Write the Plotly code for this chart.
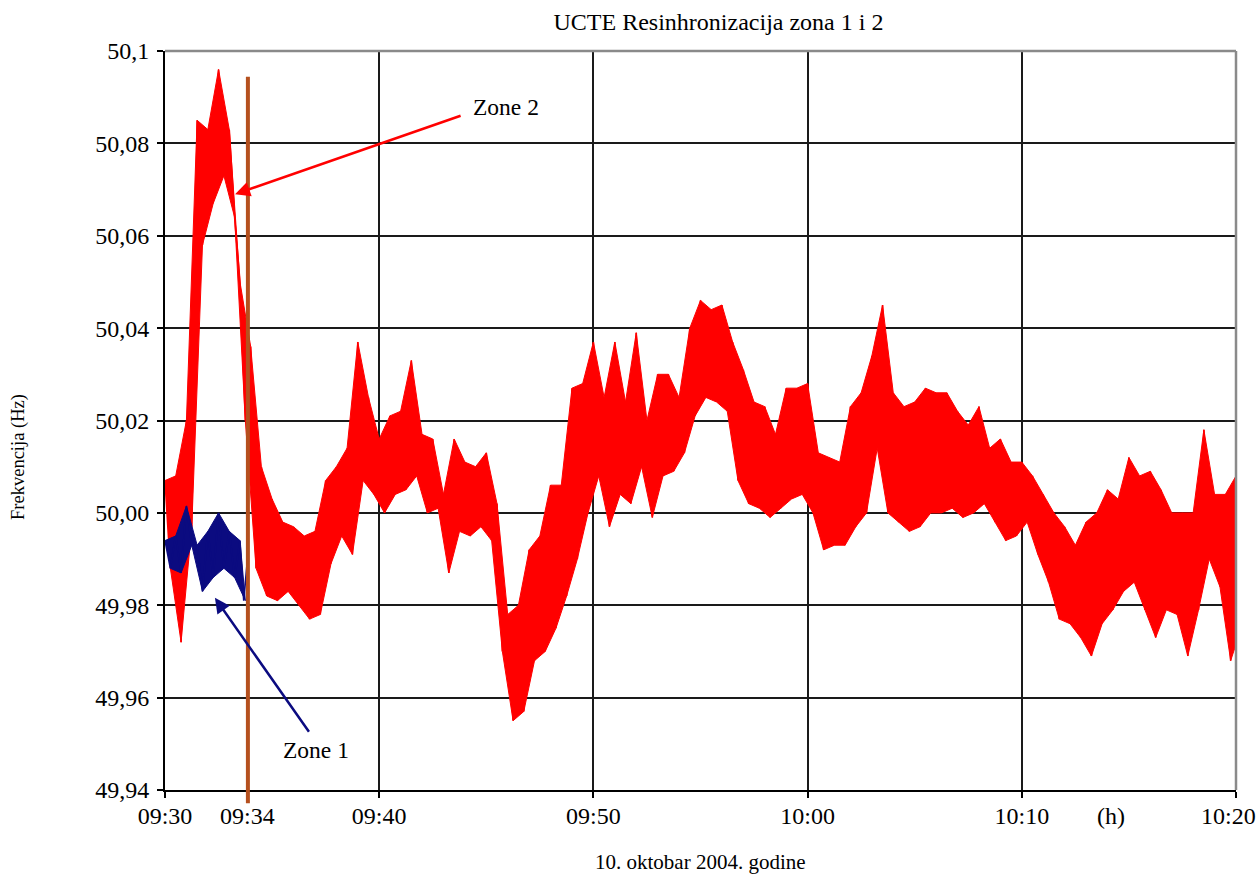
import plotly.graph_objects as go

# ---------------- data (minutes after 09:30, frequency in Hz) ----------------
zone2_time = [0.0, 0.5, 1.0, 1.5, 2.0, 2.5, 3.0, 3.5, 4.0, 4.5, 5.0, 5.5, 6.0, 6.5, 7.0, 7.5,
              8.0, 8.5, 9.0, 9.5, 10.0, 10.5, 11.0, 11.5, 12.0, 12.5, 13.0, 13.5, 14.0, 14.5,
              15.0, 15.5, 16.0, 16.5, 17.0, 17.5, 18.0, 18.5, 19.0, 19.5, 20.0, 20.5, 21.0,
              21.5, 22.0, 22.5, 23.0, 23.5, 24.0, 24.5, 25.0, 25.5, 26.0, 26.5, 27.0, 27.5,
              28.0, 28.5, 29.0, 29.5, 30.0, 30.5, 31.0, 31.5, 32.0, 32.5, 33.0, 33.5, 34.0,
              34.5, 35.0, 35.5, 36.0, 36.5, 37.0, 37.5, 38.0, 38.5, 39.0, 39.5, 40.0, 40.5,
              41.0, 41.5, 42.0, 42.5, 43.0, 43.5, 44.0, 44.5, 45.0, 45.5, 46.0, 46.5, 47.0,
              47.5, 48.0, 48.5, 49.0, 49.5, 50.0]
zone2_high = [50.007, 50.008, 50.020, 50.085, 50.083, 50.096, 50.083, 50.050, 50.036, 50.010,
              50.003, 49.998, 49.997, 49.995, 49.996, 50.007, 50.010, 50.014, 50.037, 50.025,
              50.016, 50.021, 50.022, 50.033, 50.017, 50.016, 50.004, 50.016, 50.011, 50.010,
              50.013, 50.002, 49.978, 49.980, 49.992, 49.995, 50.006, 50.006, 50.027, 50.028,
              50.037, 50.025, 50.037, 50.024, 50.039, 50.020, 50.030, 50.030, 50.025, 50.040,
              50.046, 50.044, 50.045, 50.037, 50.031, 50.024, 50.023, 50.017, 50.027, 50.027,
              50.028, 50.013, 50.012, 50.011, 50.023, 50.026, 50.034, 50.045, 50.026, 50.023,
              50.024, 50.027, 50.026, 50.026, 50.022, 50.019, 50.023, 50.014, 50.016, 50.011,
              50.011, 50.008, 50.004, 50.000, 49.997, 49.993, 49.998, 50.000, 50.005, 50.003,
              50.012, 50.008, 50.009, 50.005, 50.000, 50.000, 50.000, 50.018, 50.004, 50.004,
              50.008]
zone2_low = [49.988, 49.972, 49.997, 50.058, 50.067, 50.073, 50.064, 50.020, 49.988, 49.982,
             49.981, 49.983, 49.980, 49.977, 49.978, 49.989, 49.995, 49.991, 50.007, 50.004,
             50.000, 50.004, 50.005, 50.008, 50.000, 50.001, 49.987, 49.996, 49.995, 49.997,
             49.994, 49.970, 49.955, 49.957, 49.968, 49.970, 49.975, 49.982, 49.990, 50.000,
             50.008, 49.997, 50.004, 50.002, 50.010, 49.999, 50.008, 50.009, 50.013, 50.021,
             50.025, 50.024, 50.022, 50.007, 50.002, 50.001, 49.999, 50.001, 50.003, 50.004,
             50.000, 49.992, 49.993, 49.993, 49.997, 50.000, 50.014, 50.000, 49.998, 49.996,
             49.997, 50.000, 50.000, 50.001, 49.999, 50.000, 50.002, 49.998, 49.994, 49.995,
             49.998, 49.991, 49.985, 49.977, 49.976, 49.973, 49.969, 49.976, 49.979, 49.983,
             49.985, 49.979, 49.973, 49.979, 49.978, 49.969, 49.979, 49.990, 49.984, 49.968,
             49.975]

zone1_time = [0.0, 0.5, 1.0, 1.5, 2.0, 2.5, 3.0, 3.5, 3.85]
zone1_high = [49.994, 49.995, 50.0015, 49.993, 49.996, 50.000, 49.996, 49.994, 49.990]
zone1_low = [49.988, 49.987, 49.993, 49.983, 49.986, 49.988, 49.986, 49.981, 49.981]

resync_time = 3.87          # 09:34 marker (brown line)
resync_label = "09:34"

x_tick_vals = [0, 10, 20, 30, 40, 50]
x_tick_text = ["09:30", "09:40", "09:50", "10:00", "10:10", ""]
x_last_label = "10:20"      # drawn right-aligned at the axis end
y_tick_vals = [49.94, 49.96, 49.98, 50.00, 50.02, 50.04, 50.06, 50.08, 50.10]
y_tick_text = ["49,94", "49,96", "49,98", "50,00", "50,02", "50,04", "50,06", "50,08", "50,1"]

# arrow pointers: (label position), (arrow tail), (arrow head)
zone2_label = (15.9, 50.0879)
zone2_tail = (13.87, 50.0861)
zone2_head = (3.27, 50.069)
zone1_label = (7.05, 49.9487)
zone1_tail = (6.77, 49.9523)
zone1_head = (2.33, 49.9816)


def zigzag(times, highs, lows):
    xs, ys = [], []
    for i, t in enumerate(times):
        step = (times[i + 1] - t) if i + 1 < len(times) else (t - times[i - 1])
        xs += [t, t + step / 2]
        ys += [highs[i], lows[i]]
    return xs, ys


def band(times, highs, lows):
    xs, ys = zigzag(times, highs, lows)
    up_x, up_y = xs[0::2], ys[0::2]
    lo_x, lo_y = xs[1::2], ys[1::2]
    return up_x + lo_x[::-1], up_y + lo_y[::-1]


RED = "#FF0000"
NAVY = "#0B0B80"
BROWN = "#B5501E"
SERIF = "Liberation Serif, Times New Roman, serif"
TICK_FONT = dict(family=SERIF, size=24, color="black")

fig = go.Figure()
px_, py_ = band(zone2_time, zone2_high, zone2_low)
fig.add_trace(go.Scatter(x=px_, y=py_, mode="lines", fill="toself", fillcolor=RED,
                         line=dict(color=RED, width=1), hoverinfo="skip", name="Zone 2 band"))
zx, zy = zigzag(zone2_time, zone2_high, zone2_low)
fig.add_trace(go.Scatter(x=zx, y=zy, mode="lines", line=dict(color=RED, width=1.6), name="Zone 2"))

qx, qy = band(zone1_time[:-1], zone1_high[:-1], zone1_low[:-1])
fig.add_trace(go.Scatter(x=qx, y=qy, mode="lines", fill="toself", fillcolor=NAVY,
                         line=dict(color=NAVY, width=1), hoverinfo="skip", name="Zone 1 band"))
bx, by = zigzag(zone1_time, zone1_high, zone1_low)
fig.add_trace(go.Scatter(x=bx[:-1], y=by[:-1], mode="lines", line=dict(color=NAVY, width=1.6), name="Zone 1"))

fig.update_layout(
    template="none",
    width=1260, height=879,
    margin=dict(l=165, r=24, t=51, b=89, pad=0),
    paper_bgcolor="white", plot_bgcolor="white",
    showlegend=False,
    font=dict(family=SERIF, size=22, color="black"),
)

fig.update_layout(
    xaxis=dict(range=[0, 50], tickmode="array", tickvals=x_tick_vals, ticktext=x_tick_text,
               showgrid=True, gridcolor="#1a1a1a", gridwidth=2, showline=True, linecolor="black",
               linewidth=2, ticks="outside", ticklen=6, tickwidth=2, tickcolor="black",
               zeroline=False, automargin=False, ticklabelstandoff=-3, tickfont=TICK_FONT),
    yaxis=dict(range=[49.94, 50.1], tickmode="array", tickvals=y_tick_vals, ticktext=y_tick_text,
               showgrid=True, gridcolor="#1a1a1a", gridwidth=2, showline=True, linecolor="black",
               linewidth=2, ticks="outside", ticklen=6, tickwidth=2, tickcolor="black",
               zeroline=False, automargin=False, ticklabelstandoff=3, tickfont=TICK_FONT),
)

shapes = [
    dict(type="line", xref="x", yref="paper", x0=resync_time, x1=resync_time, y0=-0.018, y1=0.965,
         line=dict(color=BROWN, width=4), layer="above"),
    dict(type="line", xref="paper", yref="paper", x0=0, x1=1, y0=1, y1=1,
         line=dict(color="#8a8a8a", width=2.5), layer="above"),
    dict(type="line", xref="paper", yref="paper", x0=1, x1=1, y0=0, y1=1,
         line=dict(color="#8a8a8a", width=2.5), layer="above"),
]

label_y = -0.0352
annotations = [
    dict(x=zone2_head[0], y=zone2_head[1], ax=zone2_tail[0], ay=zone2_tail[1], xref="x", yref="y",
         axref="x", ayref="y", text="", showarrow=True, arrowhead=2, arrowsize=1.2, arrowwidth=2.5,
         arrowcolor=RED),
    dict(x=zone1_head[0], y=zone1_head[1], ax=zone1_tail[0], ay=zone1_tail[1], xref="x", yref="y",
         axref="x", ayref="y", text="", showarrow=True, arrowhead=2, arrowsize=1.2, arrowwidth=2.5,
         arrowcolor=NAVY),
    dict(x=zone2_label[0], y=zone2_label[1], xref="x", yref="y", text="Zone 2", showarrow=False,
         font=dict(family=SERIF, size=23.5, color="black")),
    dict(x=zone1_label[0], y=zone1_label[1], xref="x", yref="y", text="Zone 1", showarrow=False,
         font=dict(family=SERIF, size=23.5, color="black")),
    dict(x=resync_time, y=label_y, xref="x", yref="paper", text=resync_label, showarrow=False,
         yanchor="middle", font=TICK_FONT),
    dict(x=0.898, y=label_y, xref="paper", yref="paper", text="(h)", showarrow=False,
         yanchor="middle", font=TICK_FONT),
    dict(x=1.0205, y=label_y, xref="paper", yref="paper", text=x_last_label, showarrow=False,
         xanchor="right", yanchor="middle", font=TICK_FONT),
    dict(x=0.5, y=-0.0974, xref="paper", yref="paper", text="10. oktobar 2004. godine",
         showarrow=False, yanchor="middle", font=dict(family=SERIF, size=21, color="black")),
    dict(x=-0.1373, y=0.4506, xref="paper", yref="paper", text="Frekvencija (Hz)", textangle=-90,
         showarrow=False, xanchor="center", yanchor="middle",
         font=dict(family=SERIF, size=18.5, color="black")),
]

fig.update_layout(
    title=dict(text="UCTE Resinhronizacija zona 1 i 2", x=0.5168, xref="paper", xanchor="center",
               y=1 - 22 / 879, yref="container", yanchor="middle",
               font=dict(family=SERIF, size=24, color="black")),
    shapes=shapes,
    annotations=annotations,
)

fig.write_html("out.html")
